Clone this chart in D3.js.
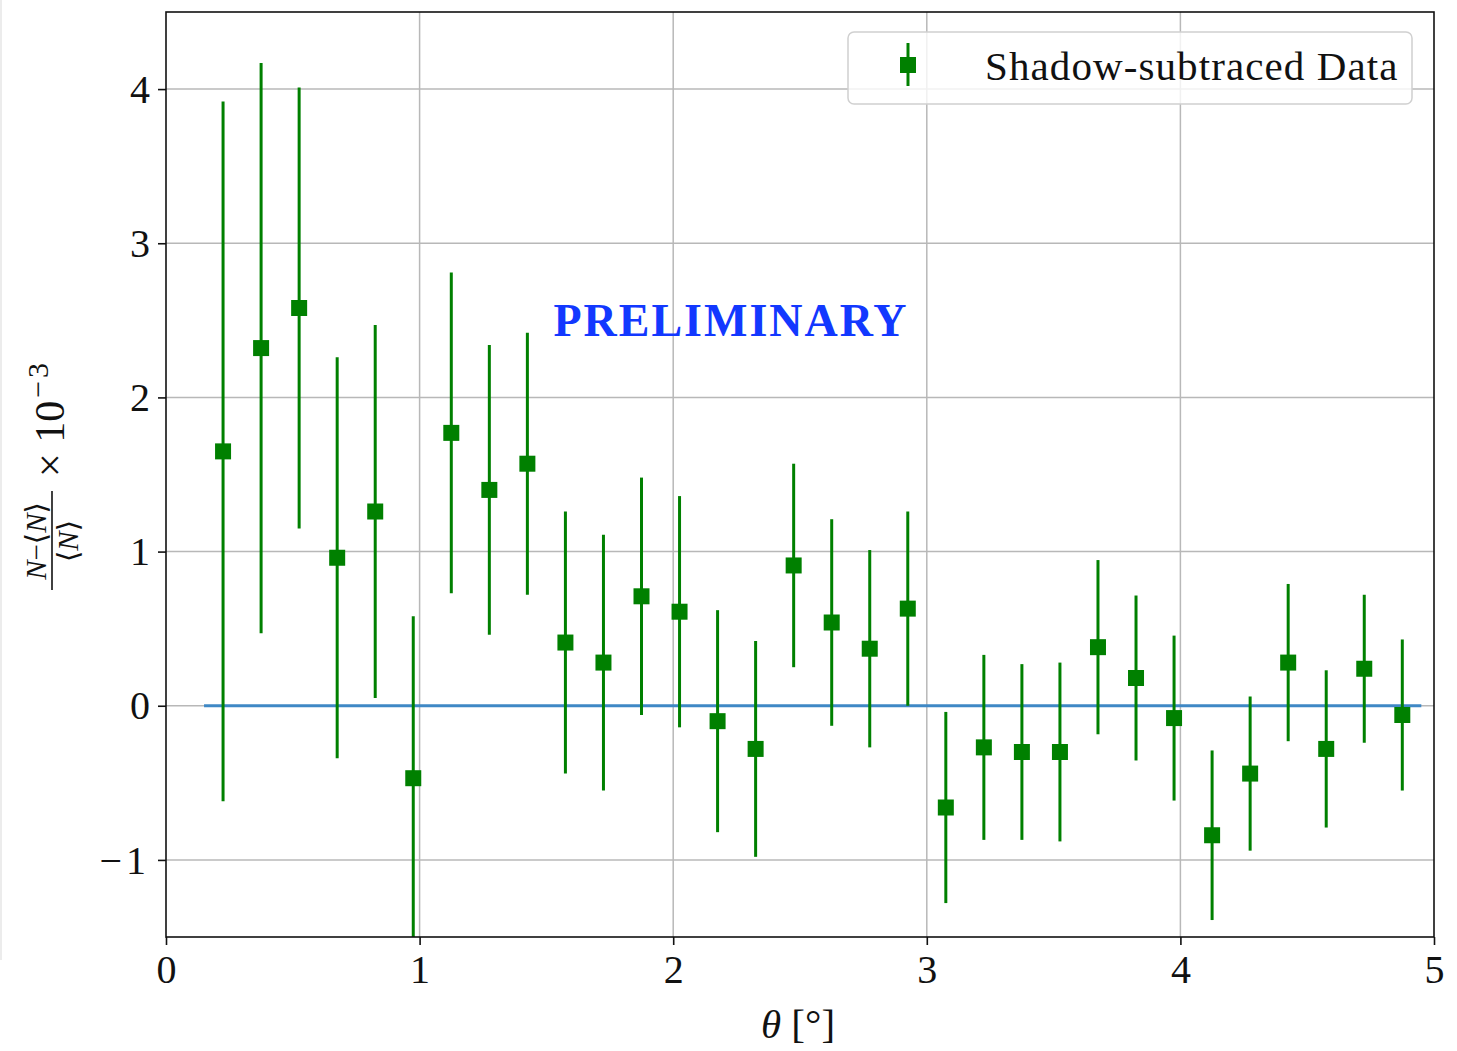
<!DOCTYPE html>
<html>
<head>
<meta charset="utf-8">
<script src="https://cdn.jsdelivr.net/npm/d3@7"></script>
<style>
  html, body { margin: 0; padding: 0; background: #fff; }
  svg { display: block; }
  text { font-family: "Liberation Serif", "DejaVu Serif", serif; fill: #111; }
</style>
</head>
<body>
<svg id="chart" width="1457" height="1051"></svg>
<script>
// Angular bin centres (degrees)
const theta = [0.225, 0.375, 0.525, 0.675, 0.825, 0.975, 1.125, 1.275, 1.425, 1.575,
               1.725, 1.875, 2.025, 2.175, 2.325, 2.475, 2.625, 2.775, 2.925, 3.075,
               3.225, 3.375, 3.525, 3.675, 3.825, 3.975, 4.125, 4.275, 4.425, 4.575,
               4.725, 4.875];
// Relative deficit (N - <N>)/<N>, in units of 1e-3
const deficit = [1.65, 2.32, 2.58, 0.96, 1.26, -0.47, 1.77, 1.40, 1.57, 0.41,
                 0.28, 0.71, 0.61, -0.10, -0.28, 0.91, 0.54, 0.37, 0.63, -0.66,
                 -0.27, -0.30, -0.30, 0.38, 0.18, -0.08, -0.84, -0.44, 0.28, -0.28,
                 0.24, -0.06];
// One-sigma uncertainties
const sigma = [2.27, 1.85, 1.43, 1.30, 1.21, 1.05, 1.04, 0.94, 0.85, 0.85,
               0.83, 0.77, 0.75, 0.72, 0.70, 0.66, 0.67, 0.64, 0.63, 0.62,
               0.60, 0.57, 0.58, 0.565, 0.535, 0.535, 0.55, 0.50, 0.51, 0.51,
               0.48, 0.49];
const xTicks = [0, 1, 2, 3, 4, 5];
const yTicks = [-1, 0, 1, 2, 3, 4];
const baselineRange = [0.15, 4.95];
const legendLabel = "Shadow-subtraced Data";
const stamp = "PRELIMINARY";

const svg = d3.select("#chart");
const plot = { left: 166, right: 1434, top: 12, bottom: 937 };

// faint frame edge on the left
svg.append("line").attr("x1", 1).attr("x2", 1).attr("y1", 0).attr("y2", 960)
  .attr("stroke", "#e6e6e6").attr("stroke-width", 1.5);

const x = d3.scaleLinear().domain([0, 5]).range([plot.left, plot.right]);
const y = d3.scaleLinear().domain([-1.5, 4.5]).range([plot.bottom, plot.top]);

svg.append("defs").append("clipPath").attr("id", "clip").append("rect")
  .attr("x", plot.left).attr("y", plot.top)
  .attr("width", plot.right - plot.left).attr("height", plot.bottom - plot.top);

// grid
const grid = svg.append("g");
grid.selectAll("line.gx").data(xTicks.filter(d => d > 0 && d < 5)).join("line")
  .attr("x1", d => x(d)).attr("x2", d => x(d))
  .attr("y1", plot.top).attr("y2", plot.bottom)
  .attr("stroke", "#b8b8b8").attr("stroke-width", 1.5);
grid.selectAll("line.gy").data(yTicks).join("line")
  .attr("x1", plot.left).attr("x2", plot.right)
  .attr("y1", d => y(d)).attr("y2", d => y(d))
  .attr("stroke", "#b8b8b8").attr("stroke-width", 1.5);

const inner = svg.append("g").attr("clip-path", "url(#clip)");

// zero reference line
inner.append("line")
  .attr("x1", x(baselineRange[0])).attr("x2", x(baselineRange[1]))
  .attr("y1", y(0)).attr("y2", y(0))
  .attr("stroke", "#3f88c5").attr("stroke-width", 3);

// error bars
inner.selectAll("line.err").data(theta).join("line")
  .attr("x1", d => x(d)).attr("x2", d => x(d))
  .attr("y1", (d, i) => y(deficit[i] - sigma[i]))
  .attr("y2", (d, i) => y(deficit[i] + sigma[i]))
  .attr("stroke", "#008000").attr("stroke-width", 3);

// square markers
const ms = 16;
inner.selectAll("rect.pt").data(theta).join("rect")
  .attr("x", d => x(d) - ms / 2)
  .attr("y", (d, i) => y(deficit[i]) - ms / 2)
  .attr("width", ms).attr("height", ms)
  .attr("fill", "#008000");

// axes
const fontSize = 40;
const xAxis = svg.append("g").attr("transform", `translate(0,${plot.bottom})`)
  .call(d3.axisBottom(x).tickValues(xTicks).tickSize(8).tickPadding(10)
    .tickFormat(d3.format("d")));
const yAxis = svg.append("g").attr("transform", `translate(${plot.left},0)`)
  .call(d3.axisLeft(y).tickValues(yTicks).tickSize(8).tickPadding(8)
    .tickFormat(d => d < 0 ? "\u2212" + Math.abs(d) : String(d)));
[xAxis, yAxis].forEach(a => {
  a.select(".domain").remove();
  a.selectAll(".tick line").attr("stroke", "#111").attr("stroke-width", 1.6);
  a.selectAll(".tick text").attr("font-size", fontSize)
    .attr("font-family", "Liberation Serif, serif").attr("fill", "#111");
});
yAxis.selectAll(".tick text").attr("dy", "0.33em")
  .filter(d => d < 0).attr("letter-spacing", 4);

// frame
svg.append("rect")
  .attr("x", plot.left).attr("y", plot.top)
  .attr("width", plot.right - plot.left).attr("height", plot.bottom - plot.top)
  .attr("fill", "none").attr("stroke", "#111").attr("stroke-width", 1.6);

// x label
const xl = svg.append("text").attr("x", 798).attr("y", 1038)
  .attr("text-anchor", "middle").attr("font-size", 41);
xl.append("tspan").attr("font-style", "italic").text("\u03B8");
xl.append("tspan").text(" [\u00B0]");

// y label: (N - <N>)/<N> x 10^-3
const yl = svg.append("g").attr("transform", "translate(52,590) rotate(-90)");
yl.append("text").attr("x", 49).attr("y", -6).attr("text-anchor", "middle")
  .attr("font-size", 29)
  .call(t => {
    t.append("tspan").attr("font-style", "italic").text("N");
    t.append("tspan").text("\u2212\u27E8");
    t.append("tspan").attr("font-style", "italic").text("N");
    t.append("tspan").text("\u27E9");
  });
yl.append("line").attr("x1", 0).attr("x2", 99).attr("y1", 0).attr("y2", 0)
  .attr("stroke", "#111").attr("stroke-width", 1.6);
yl.append("text").attr("x", 49).attr("y", 26).attr("text-anchor", "middle")
  .attr("font-size", 29)
  .call(t => {
    t.append("tspan").text("\u27E8");
    t.append("tspan").attr("font-style", "italic").text("N");
    t.append("tspan").text("\u27E9");
  });
yl.append("text").attr("x", 113).attr("y", 12).attr("font-size", 42)
  .call(t => {
    t.append("tspan").text("\u00D7 10");
    t.append("tspan").attr("font-size", 30).attr("dy", -16).attr("dx", 3)
      .attr("letter-spacing", 3).text("\u22123");
  });

// watermark
svg.append("text").attr("x", 731).attr("y", 336).attr("text-anchor", "middle")
  .attr("font-size", 46).attr("font-weight", "bold").attr("letter-spacing", 2)
  .style("fill", "#1238ff").text(stamp);

// legend
const lg = svg.append("g");
lg.append("rect").attr("x", 848).attr("y", 32).attr("width", 564).attr("height", 72)
  .attr("rx", 6).attr("fill", "rgba(255,255,255,0.8)")
  .attr("stroke", "#d0d0d0").attr("stroke-width", 1.5);
lg.append("line").attr("x1", 908).attr("x2", 908).attr("y1", 43).attr("y2", 86)
  .attr("stroke", "#008000").attr("stroke-width", 3);
lg.append("rect").attr("x", 908 - ms / 2).attr("y", 65 - ms / 2)
  .attr("width", ms).attr("height", ms).attr("fill", "#008000");
lg.append("text").attr("x", 985).attr("y", 80).attr("font-size", 41)
  .attr("letter-spacing", 1.1)
  .text(legendLabel);
</script>
</body>
</html>
